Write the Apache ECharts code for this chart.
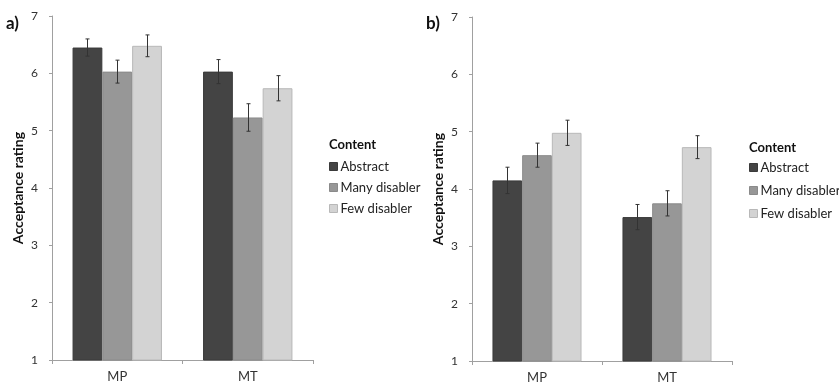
<!DOCTYPE html>
<html>
<head>
<meta charset="utf-8">
<script src="https://cdn.jsdelivr.net/npm/echarts@6/dist/echarts.min.js"></script>
<style>
  html, body { margin: 0; padding: 0; background: #fff; }
  #chart { width: 839px; height: 385px; }
</style>
</head>
<body>
<div id="chart"></div>
<script>
// categories and series names
var categories = ["MP", "MT"];
var contentNames = ["Abstract", "Many disabler", "Few disabler"];
var yTicks = [1, 2, 3, 4, 5, 6, 7];

// panel a) means and error half-widths (MP, MT)
var aAbstract = [6.45, 6.03];
var aMany = [6.03, 5.23];
var aFew = [6.48, 5.74];
var aAbstractErr = [0.15, 0.21];
var aManyErr = [0.2, 0.24];
var aFewErr = [0.19, 0.22];

// panel b)
var bAbstract = [4.15, 3.51];
var bMany = [4.59, 3.75];
var bFew = [4.98, 4.73];
var bAbstractErr = [0.23, 0.22];
var bManyErr = [0.21, 0.22];
var bFewErr = [0.22, 0.2];

var colors = ["#444444", "#979797", "#d3d3d3"];
var borders = ["#3a3a3a", "#8a8a8a", "#b8b8b8"];
var GAP = 0.315;
var FONT = "Lato, 'Open Sans', sans-serif";

var chart = echarts.init(document.getElementById("chart"));

function errRender(idx) {
  return function (params, api) {
    var cat = api.value(0);
    var val = api.value(1);
    var err = api.value(2);
    var band = api.size([1, 0])[0];
    var barW = band * (1 - GAP) / 3;
    var hi = api.coord([cat, val + err]);
    var lo = api.coord([cat, val - err]);
    var x = Math.round(hi[0] + (idx - 1) * barW) + 0.5;
    var st = { stroke: "#333", lineWidth: 1 };
    return {
      type: "group",
      children: [
        { type: "line", shape: { x1: x, y1: hi[1], x2: x, y2: lo[1] }, style: st },
        { type: "line", shape: { x1: x - 2, y1: hi[1], x2: x + 2, y2: hi[1] }, style: st },
        { type: "line", shape: { x1: x - 2, y1: lo[1], x2: x + 2, y2: lo[1] }, style: st }
      ]
    };
  };
}

function panelSeries(gi, vals, errs) {
  var out = [];
  vals.forEach(function (v, i) {
    out.push({
      name: contentNames[i],
      type: "bar",
      xAxisIndex: gi,
      yAxisIndex: gi,
      barGap: "0%",
      barCategoryGap: (GAP * 100) + "%",
      itemStyle: { color: colors[i], borderColor: borders[i], borderWidth: 1 },
      data: v
    });
  });
  errs.forEach(function (e, i) {
    out.push({
      type: "custom",
      xAxisIndex: gi,
      yAxisIndex: gi,
      z: 5,
      encode: { x: 0, y: 1 },
      renderItem: errRender(i),
      data: categories.map(function (c, k) { return [k, vals[i][k], e[k]]; })
    });
  });
  return out;
}

function xAxis(gi) {
  return {
    type: "category",
    gridIndex: gi,
    data: categories,
    axisLine: { lineStyle: { color: "#a0a0a0" } },
    axisTick: { show: true, length: 4, lineStyle: { color: "#a0a0a0" } },
    axisLabel: { color: "#333", fontSize: 13, fontFamily: FONT, margin: 10 }
  };
}

function yAxis(gi) {
  return {
    type: "value",
    gridIndex: gi,
    min: yTicks[0],
    max: yTicks[yTicks.length - 1],
    interval: 1,
    name: "Acceptance rating",
    nameLocation: "middle",
    nameGap: 27,
    nameTextStyle: { color: "#111", fontSize: 14, fontWeight: "bold", fontFamily: FONT },
    splitLine: { show: false },
    axisLine: { show: true, lineStyle: { color: "#a0a0a0" } },
    axisTick: { show: true, length: 3, lineStyle: { color: "#a0a0a0" } },
    axisLabel: { color: "#333", fontSize: 12, fontFamily: FONT, margin: 14 }
  };
}

function legend(left, top, gap) {
  return {
    orient: "vertical",
    left: left,
    top: top,
    padding: 0,
    itemWidth: 8,
    itemHeight: 8,
    itemGap: gap,
    icon: "rect",
    selectedMode: false,
    textStyle: { color: "#222", fontSize: 13, fontFamily: FONT, padding: [0, 0, 0, -2] },
    data: contentNames.map(function (n, i) {
      return { name: n, itemStyle: { color: colors[i], borderColor: borders[i], borderWidth: 1 } };
    })
  };
}

function label(text, left, top, size) {
  return {
    text: text, left: left, top: top, padding: 0,
    textStyle: { fontSize: size, fontWeight: "bold", color: "#111", fontFamily: FONT }
  };
}

var series = panelSeries(0, [aAbstract, aMany, aFew], [aAbstractErr, aManyErr, aFewErr])
  .concat(panelSeries(1, [bAbstract, bMany, bFew], [bAbstractErr, bManyErr, bFewErr]));

chart.setOption({
  animation: false,
  title: [
    label("a)", 6, 15, 17),
    label("b)", 426, 15, 17),
    label("Content", 329, 138, 13),
    label("Content", 749, 141, 13)
  ],
  legend: [legend(329, 160, 8), legend(749, 161, 10)],
  grid: [
    { left: 52, right: 526, top: 16, bottom: 25 },
    { left: 472, right: 107, top: 17, bottom: 24 }
  ],
  xAxis: [xAxis(0), xAxis(1)],
  yAxis: [yAxis(0), yAxis(1)],
  series: series
});
</script>
</body>
</html>
